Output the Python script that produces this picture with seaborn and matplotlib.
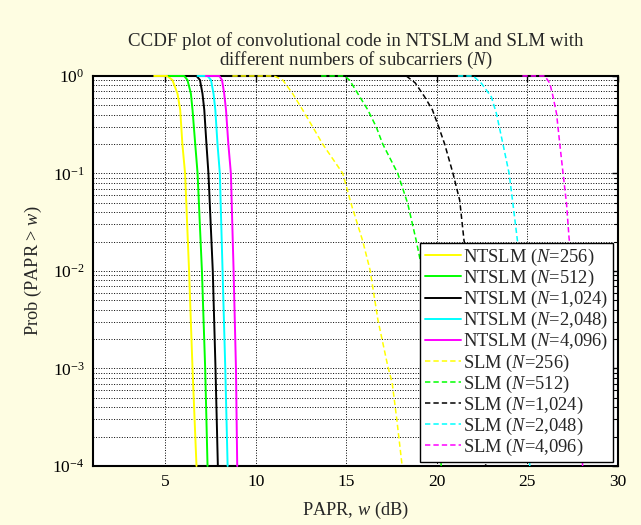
import numpy as np
import pandas as pd
import seaborn as sns
import matplotlib.pyplot as plt
from matplotlib.ticker import LogLocator, NullFormatter

# values
p_ntslm = [1, 1, 0.91, 0.66, 0.45, 0.2, 0.1, 1e-2, 1e-3, 1e-4]
x_ntslm_256 = [4.38, 5.1, 5.39, 5.67, 5.82, 5.94, 6.09, 6.31, 6.5, 6.72]
x_ntslm_512 = [5.2, 6.04, 6.22, 6.41, 6.5, 6.65, 6.78, 7.02, 7.2, 7.33]
x_ntslm_1024 = [6.5, 6.72, 6.91, 7.05, 7.15, 7.27, 7.38, 7.62, 7.77, 7.9]
x_ntslm_2048 = [6.78, 7.33, 7.52, 7.66, 7.76, 7.88, 8.01, 8.16, 8.31, 8.44]
x_ntslm_4096 = [7.24, 7.98, 8.13, 8.25, 8.35, 8.48, 8.62, 8.77, 8.9, 8.97]

x_slm_256 = [8.7, 11.0, 11.48, 12.03, 12.58, 13.14, 13.69, 14.8, 15.26, 15.9,
             16.31, 16.74, 17.29, 17.53, 17.79, 18.08]
p_slm_256 = [1, 1, 0.91, 0.66, 0.45, 0.3, 0.2, 0.1, 0.049, 0.0204,
             0.0102, 0.00316, 0.00105, 0.00071, 0.000295, 0.0001]
x_slm_512 = [13.6, 14.89, 15.17, 15.63, 16.18, 16.65, 17.01, 17.84, 18.39, 18.86,
             19.2, 19.8, 20.24]
p_slm_512 = [1, 1, 0.91, 0.66, 0.45, 0.3, 0.2, 0.1, 0.049, 0.0204, 0.01, 0.001, 0.0001]
x_slm_1024 = [18.31, 18.8, 19.3, 19.75, 20.1, 20.43, 20.89, 21.26, 21.5, 21.9, 22.3, 22.7]
p_slm_1024 = [1, 0.85, 0.62, 0.45, 0.3, 0.2, 0.1, 0.053, 0.0204, 0.01, 0.001, 0.0001]
x_slm_2048 = [21.16, 22.0, 22.46, 23.01, 23.29, 23.65, 23.99, 24.2, 24.43, 24.65, 24.95, 25.13]
x_slm_4096 = [24.72, 25.96, 26.24, 26.42, 26.61, 26.79, 26.97, 27.16, 27.3, 27.5, 27.8, 28.05]
p_slm_hi = [1, 1, 0.84, 0.61, 0.41, 0.2, 0.1, 0.049, 0.0219, 0.01, 0.001, 0.0001]

n_labels = ['256', '512', '1,024', '2,048', '4,096']
colors = ['#ffff00', '#00ff00', '#000000', '#00ffff', '#ff00ff']

sns.set_style('white')
plt.rcParams['font.family'] = ['Liberation Serif', 'DejaVu Serif']
plt.rcParams['mathtext.fontset'] = 'custom'
plt.rcParams['mathtext.rm'] = 'Liberation Serif'
plt.rcParams['mathtext.it'] = 'Liberation Serif:italic'

fig = plt.figure(figsize=(6.41, 5.25), dpi=100, facecolor='#fefde2')
ax = fig.add_axes([0.145, 0.1124, 0.819, 0.7429])
ax.set_facecolor('white')

ntslm = [x_ntslm_256, x_ntslm_512, x_ntslm_1024, x_ntslm_2048, x_ntslm_4096]
slm = [(x_slm_256, p_slm_256), (x_slm_512, p_slm_512), (x_slm_1024, p_slm_1024),
       (x_slm_2048, p_slm_hi), (x_slm_4096, p_slm_hi)]

for xs, n, c in zip(ntslm, n_labels, colors):
    df = pd.DataFrame({'x': xs, 'p': p_ntslm})
    sns.lineplot(data=df, x='x', y='p', ax=ax, color=c, lw=1.4, sort=False,
                 label='NTSLM ($N$=' + n + ')')
for (xs, ps), n, c in zip(slm, n_labels, colors):
    df = pd.DataFrame({'x': xs, 'p': ps})
    sns.lineplot(data=df, x='x', y='p', ax=ax, color=c, lw=1.1, sort=False,
                 dashes=False, label='SLM ($N$=' + n + ')')
for i, line in enumerate(ax.get_lines()):
    line.set_clip_on(False)
    line.set_zorder(3)
    if i >= 5:
        line.set_linestyle((0, (3.5, 2)))

ax.set_yscale('log')
ax.set_xlim(1, 30)
ax.set_ylim(1e-4, 1)
ax.set_xticks([5, 10, 15, 20, 25, 30])
ax.yaxis.set_major_locator(LogLocator(base=10, numticks=10))
ax.yaxis.set_minor_locator(LogLocator(base=10, subs=np.arange(2, 10), numticks=10))
ax.yaxis.set_minor_formatter(NullFormatter())

ax.grid(True, which='major', color='black', ls=':', lw=0.7)
ax.grid(True, which='minor', axis='y', color='black', ls=':', lw=0.7)
ax.tick_params(which='both', direction='in', top=True, right=True, labelsize=12.5,
               colors='black', pad=6)
ax.tick_params(which='major', length=4, width=1)
ax.tick_params(which='minor', length=3, width=0.8)
for s in ax.spines.values():
    s.set_color('black')
    s.set_linewidth(1.5)
    s.set_zorder(2.5)

ax.set_xlabel('PAPR, $w$ (dB)', fontsize=13.2, labelpad=7)
ax.set_ylabel('Prob (PAPR > $w$)', fontsize=13.2, labelpad=6)
ax.set_title('CCDF plot of convolutional code in NTSLM and SLM with\n'
             'different numbers of subcarriers ($N$)', fontsize=13.6, pad=8, linespacing=1.0)

leg = ax.legend(loc='lower right', bbox_to_anchor=(0.99, 0.01), fontsize=13.3,
                frameon=True, fancybox=False, framealpha=1, edgecolor='black',
                handlelength=1.95, handletextpad=0.15, labelspacing=0.0,
                borderpad=0.22, borderaxespad=0)
leg.get_frame().set_linewidth(1.0)
leg.set_zorder(5)

fig.savefig('out.png', dpi=100, facecolor=fig.get_facecolor())
